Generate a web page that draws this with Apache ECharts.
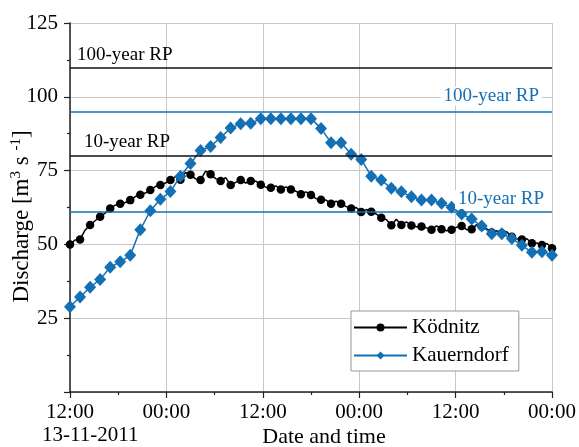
<!DOCTYPE html>
<html>
<head>
<meta charset="utf-8">
<script src="https://cdn.jsdelivr.net/npm/echarts@6/dist/echarts.min.js"></script>
<style>
html,body{margin:0;padding:0;background:#fff;}
#chart{width:579px;height:447px;}
</style>
</head>
<body>
<div id="chart"></div>
<script>
// hours since 12:00 13-11-2011, marker step 1.25 h
var markerStep = 1.25;
// Kauerndorf (blue) values at each marker
var kauerndorf = [28.9,32.2,35.5,38.1,42.3,44.1,46.3,55.0,61.4,65.3,
  67.9,73.1,77.4,81.8,83.2,86.2,89.4,90.9,91.0,92.6,
  92.6,92.6,92.6,92.6,92.6,89.3,84.4,84.4,80.5,78.8,
  73.1,71.8,69.0,67.8,66.1,65.0,65.0,63.9,62.6,60.3,
  58.6,56.2,53.6,53.6,52.0,49.7,47.3,47.5,46.3];
// Ködnitz (black) values at each marker
var koednitz = [50.0,51.7,56.6,59.4,62.2,63.8,65.0,66.8,68.4,70.1,
  71.8,71.9,73.6,71.8,73.8,71.5,70.1,71.8,71.5,70.2,
  69.2,68.6,68.6,67.0,66.7,65.1,63.8,63.8,62.2,61.0,
  61.1,59.0,56.5,56.6,56.4,56.1,55.0,55.1,55.0,56.2,
  55.1,56.1,54.0,53.8,52.6,51.7,50.4,49.8,48.7];
// Ködnitz values read between markers (half steps)
var koednitzMid = [51.5,54.8,58.0,60.6,63.3,64.2,66.2,67.4,69.6,70.8,
  73.0,74.4,72.2,74.8,72.3,72.6,71.0,70.8,71.4,69.4,
  69.8,69.5,68.0,67.8,65.5,65.0,64.6,62.8,62.5,61.8,
  60.3,58.4,58.5,57.6,56.0,55.6,56.3,54.6,55.8,55.0,
  56.7,55.3,54.6,54.3,51.9,51.9,50.5,50.3];
// return-period reference levels
var rpBlack = [{name:'100-year RP', value:110},{name:'10-year RP', value:80}];
var rpBlue = [{name:'100-year RP', value:95},{name:'10-year RP', value:61}];
var xTicks = {0:'12:00',12:'00:00',24:'12:00',36:'00:00',48:'12:00',60:'00:00'};
var startDate = '13-11-2011';

var blueColor = '#1470b4';
var font = 'Liberation Serif';

var blueData = kauerndorf.map(function(v,i){return [i*markerStep, v];});
var blackData = [];
for (var i=0;i<koednitz.length;i++){
  blackData.push({value:[i*markerStep, koednitz[i]]});
  if (i<koednitzMid.length) blackData.push({value:[(i+0.5)*markerStep, koednitzMid[i]], symbol:'none'});
}

var chart = echarts.init(document.getElementById('chart'), null, {renderer:'canvas'});
var option = {
  animation:false,
  textStyle:{fontFamily:font},
  grid:{left:70, right:27, top:23, bottom:55, containLabel:false, outerBoundsMode:'none'},
  xAxis:{
    type:'value', min:0, max:60, interval:12,
    name:'Date and time', nameLocation:'middle', nameGap:34, nameMoveOverlap:false,
    nameTextStyle:{fontFamily:font, fontSize:22, color:'#000', padding:[0,0,0,26]},
    axisLine:{lineStyle:{color:'#222', width:1.5}},
    axisTick:{show:true, inside:false, length:6, lineStyle:{color:'#222', width:1.2}},
    minorTick:{show:true, splitNumber:2, length:3, lineStyle:{color:'#222', width:1.2}},
    axisLabel:{fontFamily:font, fontSize:21, color:'#000', margin:10,
      formatter:function(v){return xTicks[v]!==undefined?xTicks[v]:'';}},
    splitLine:{show:true, lineStyle:{color:'#c8c8c8', width:1}}
  },
  yAxis:{
    type:'value', min:0, max:125, interval:25,
    name:'{n|Discharge [m}{s|3}{n| s }{s|-1}{n|]}', nameLocation:'middle', nameGap:36, nameMoveOverlap:false,
    nameTextStyle:{fontFamily:font, fontSize:23, color:'#000', padding:[0,18,0,0],
      rich:{n:{fontFamily:font, fontSize:23, color:'#000'},
            s:{fontFamily:font, fontSize:15, color:'#000', padding:[0,0,10,0]}}},
    axisLine:{show:true, lineStyle:{color:'#222', width:1.5}},
    axisTick:{show:true, length:6, lineStyle:{color:'#222', width:1.2}},
    minorTick:{show:true, splitNumber:2, length:3, lineStyle:{color:'#222', width:1.2}},
    axisLabel:{fontFamily:font, fontSize:21, color:'#000', margin:12,
      formatter:function(v){return v===0?'':String(v);}},
    splitLine:{show:true, lineStyle:{color:'#c8c8c8', width:1}}
  },
  legend:{
    orient:'vertical', left:351, top:311,
    backgroundColor:'#fff', borderColor:'#999', borderWidth:1,
    padding:[6,10,5,2], itemGap:7, itemWidth:53, itemHeight:10,
    textStyle:{fontFamily:font, fontSize:21, color:'#000'},
    data:['Ködnitz','Kauerndorf']
  },
  graphic:[{type:'text', left:42, top:425, style:{text:startDate, font:'21px "Liberation Serif"', fill:'#000'}}],
  series:[
    {name:'Ködnitz', type:'line', data:blackData, color:'#000',
     symbol:'circle', symbolSize:8.5, lineStyle:{width:1.5, color:'#000'},
     itemStyle:{color:'#000'}, z:3,
     markLine:{silent:true, symbol:'none',
       lineStyle:{color:'#111', width:1.6, type:'solid'},
       label:{show:true, position:'insideStartTop', formatter:'{b}', fontFamily:font, fontSize:19, color:'#000'},
       data:[
         {yAxis:rpBlack[0].value, name:rpBlack[0].name, label:{distance:[7,3]}},
         {yAxis:rpBlack[1].value, name:rpBlack[1].name, label:{distance:[14,4]}}
       ]}
    },
    {name:'Kauerndorf', type:'line', data:blueData, color:blueColor,
     symbol:'diamond', symbolSize:[12,13], lineStyle:{width:1.5, color:blueColor},
     itemStyle:{color:blueColor}, z:4,
     markLine:{silent:true, symbol:'none',
       lineStyle:{color:blueColor, width:1.6, type:'solid'},
       label:{show:true, position:'insideEndTop', formatter:'{b}', fontFamily:font, fontSize:19, color:blueColor,
         backgroundColor:'#fff', padding:[0,3]},
       data:[
         {yAxis:rpBlue[0].value, name:rpBlue[0].name, label:{distance:[10,6]}},
         {yAxis:rpBlue[1].value, name:rpBlue[1].name, label:{distance:[5,3]}}
       ]}
    }
  ]
};
chart.setOption(option);
</script>
</body>
</html>
